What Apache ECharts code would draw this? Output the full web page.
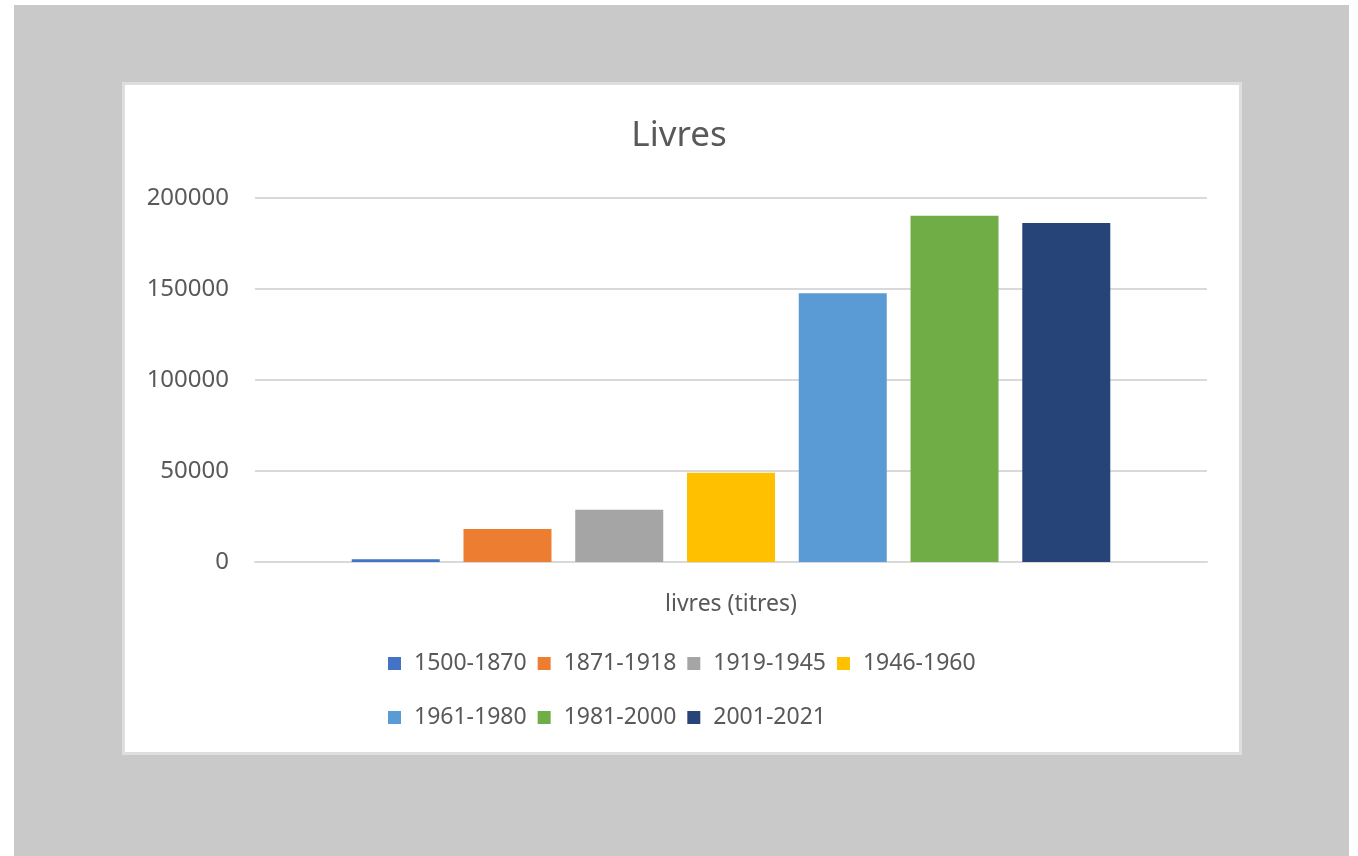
<!DOCTYPE html>
<html><head><meta charset="utf-8">
<script src="https://cdn.jsdelivr.net/npm/echarts@6/dist/echarts.min.js"></script>
<style>
html,body{margin:0;padding:0;background:#fff;}
#bg{position:absolute;left:14px;top:5px;width:1335px;height:851px;background:#c8c9c8;}
#box{position:absolute;left:122px;top:82px;width:1114px;height:667px;background:#fff;border:3px solid #dedede;}
#chart{position:absolute;left:0;top:0;width:1358px;height:856px;}
</style></head>
<body>
<div id="bg"></div><div id="box"></div>
<div id="chart"></div>
<script>
const categories = ['livres (titres)'];
const seriesNames = ['1500-1870','1871-1918','1919-1945','1946-1960','1961-1980','1981-2000','2001-2021'];
const seriesValues = [1500, 18100, 28700, 49000, 147600, 190200, 186300];
const colors = ['#4472c4','#ed7d31','#a5a5a5','#ffc000','#5b9bd5','#70ad47','#264478'];
const yTicks = [0, 50000, 100000, 150000, 200000];

const font = '"Noto Sans", "Open Sans", sans-serif';
const chart = echarts.init(document.getElementById('chart'));
const series = seriesNames.map((n, i) => ({
  name: n, type: 'bar', data: [seriesValues[i]],
  barWidth: 88, barGap: '27%',
  itemStyle: { color: colors[i] }
}));
const legendCommon = {
  left: 383, itemWidth: 13, itemHeight: 13, itemGap: 11, icon: 'rect',
  textStyle: { color: '#595959', fontSize: 23, fontFamily: font, padding: [0,0,0,8] }
};
chart.setOption({
  animation: false,
  backgroundColor: 'transparent',
  title: { text: 'Livres', left: 'center', top: 114, textStyle: { color: '#595959', fontSize: 35, fontWeight: 'normal', fontFamily: font } },
  legend: [
    Object.assign({ top: 647, data: seriesNames.slice(0,4) }, legendCommon),
    Object.assign({ top: 701, data: seriesNames.slice(4) }, legendCommon)
  ],
  grid: { left: 255, right: 151, top: 198, bottom: 294 },
  xAxis: {
    type: 'category', data: categories,
    axisLabel: { show: false }, axisTick: { show: false },
    axisLine: { lineStyle: { color: '#d9d9d9', width: 2 } },
    name: categories[0], nameLocation: 'middle', nameGap: 31,
    nameTextStyle: { color: '#595959', fontSize: 23, fontFamily: font }
  },
  yAxis: {
    type: 'value', min: yTicks[0], max: yTicks[yTicks.length-1], interval: 50000,
    axisLine: { show: false }, axisTick: { show: false },
    axisLabel: { color: '#595959', fontSize: 24, fontFamily: font, margin: 26, formatter: v => String(v) },
    splitLine: { lineStyle: { color: '#d9d9d9', width: 2 } }
  },
  series: series
});
</script>
</body></html>
